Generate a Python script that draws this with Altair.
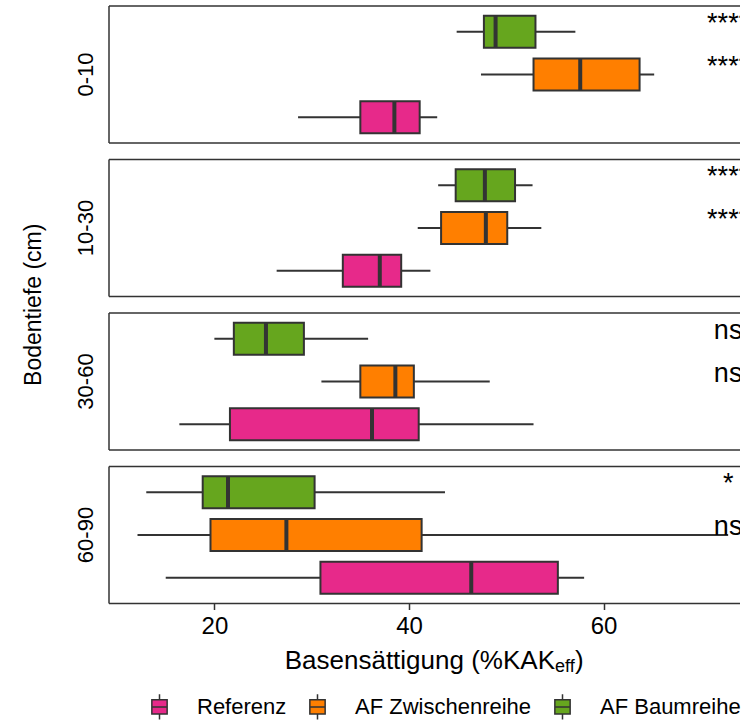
import altair as alt
import pandas as pd

# Soil depth classes (one panel each) and land-use groups
depths = ["0-10", "10-30", "30-60", "60-90"]
groups = ["Referenz", "AF Zwischenreihe", "AF Baumreihe"]
colors = ["#E7298A", "#FF7F00", "#66A61E"]

# Box statistics, depth-major, groups in the order of `groups`
depth_col = [d for d in depths for _ in groups]
group_col = groups * len(depths)
lower = [28.6, 47.4, 44.9, 26.4, 40.9, 43.0, 16.4, 31.0, 20.0, 15.0, 12.1, 13.0]
q1 = [35.0, 52.8, 47.7, 33.2, 43.3, 44.8, 21.6, 35.0, 22.0, 30.9, 19.6, 18.8]
median = [38.5, 57.6, 48.9, 37.0, 47.9, 47.8, 36.2, 38.6, 25.3, 46.4, 27.4, 21.4]
q3 = [41.1, 63.7, 53.0, 39.2, 50.1, 50.9, 41.0, 40.5, 29.2, 55.3, 41.3, 30.3]
upper = [42.9, 65.2, 57.1, 42.2, 53.6, 52.7, 52.8, 48.3, 35.8, 58.0, 72.8, 43.7]
# significance versus Referenz
signif = ["", "****", "****", "", "****", "****", "", "ns", "ns", "", "ns", "*"]

x_ticks = [20, 40, 60]
title_main = "Basensättigung (%KAK"
title_sub = "eff"
title_close = ")"
y_title = "Bodentiefe (cm)"

df = pd.DataFrame({
    "depth": depth_col, "group": group_col,
    "lower": lower, "q1": q1, "median": median, "q3": q3, "upper": upper,
    "signif": signif,
})
# labels sit at the largest whisker value
df["label_x"] = max(upper)
df["ytitle"] = y_title

FONT = "Liberation Sans"
INK = "#333333"
W, H = 631, 137
GAP = 16.5

x_scale = alt.Scale(domain=[9.17, 74.02], nice=False, zero=False)
y_enc = alt.Y("group:N", sort=groups[::-1], axis=None,
              scale=alt.Scale(paddingInner=0.25, paddingOuter=0.225))

symbol_path = ("M-0.6,-0.55H0.6V0.55H-0.6Z M-0.6,0H0.6 "
               "M0,-1V-0.55 M0,0.55V1")
legend = alt.Legend(title=None, orient="none", direction="horizontal",
                    legendX=37, legendY=687,
                    symbolType=symbol_path, symbolSize=650,
                    symbolStrokeColor=INK, symbolStrokeWidth=1.5,
                    labelFontSize=22, labelFont=FONT, labelColor="black",
                    labelLimit=400, labelOffset=24, columnPadding=17)


def panel(depth, bottom=False, with_title=False):
    if bottom:
        axis = alt.Axis(values=x_ticks, grid=False, domain=False, tickSize=6,
                        tickWidth=1.5, tickColor=INK, labelFontSize=24,
                        labelColor="black", labelPadding=5, labelFont=FONT)
    else:
        axis = None
    whiskers = alt.Chart().mark_rule(color=INK, strokeWidth=2).encode(
        x=alt.X("lower:Q", scale=x_scale, title=None, axis=axis),
        x2="upper:Q", y=y_enc,
    )
    boxes = alt.Chart().mark_bar(stroke=INK, strokeWidth=2).encode(
        x="q1:Q", x2="q3:Q", y=y_enc,
        color=alt.Color("group:N", scale=alt.Scale(domain=groups, range=colors),
                        legend=legend),
    )
    medians = alt.Chart().mark_tick(color=INK, thickness=4, size=32, opacity=1).encode(
        x="median:Q", y=y_enc,
    )
    stars = alt.Chart().mark_text(fontSize=27, font=FONT, color="black", align="center",
                                  baseline="alphabetic", clip=True).encode(
        x="label_x:Q", y=y_enc, text="signif:N",
    ).transform_filter("datum.signif != ''")

    one = "datum.group == 'Referenz'"
    frame = dict(color=INK, strokeWidth=1.5)
    top = alt.Chart().mark_rule(**frame).encode(
        x=alt.value(0), x2=alt.value(W), y=alt.value(0)).transform_filter(one)
    bot = alt.Chart().mark_rule(**frame).encode(
        x=alt.value(0), x2=alt.value(W), y=alt.value(H)).transform_filter(one)
    left = alt.Chart().mark_rule(**frame).encode(
        x=alt.value(0), y=alt.value(0), y2=alt.value(H)).transform_filter(one)
    strip = alt.Chart().mark_text(angle=270, fontSize=22, font=FONT, color="black",
                                  align="center", baseline="middle").encode(
        x=alt.value(-23), y=alt.value(H / 2), text="depth:N").transform_filter(one)

    layers = [whiskers, boxes, medians, stars, top, bot, left, strip]
    if with_title:
        ytitle = alt.Chart().mark_text(angle=270, fontSize=23, font=FONT, color="black",
                                       align="center", baseline="middle").encode(
            x=alt.value(-75), y=alt.value(H + GAP / 2), text="ytitle:N"
        ).transform_filter(one)
        layers.append(ytitle)
    return alt.layer(*layers, data=df).transform_filter(
        alt.datum.depth == depth).properties(width=W, height=H)


# panels stacked on their plot rectangles only, so the shared y title
# may hang across the gap without pushing panels apart
panels = alt.vconcat(
    *[panel(d, bottom=(i == len(depths) - 1), with_title=(i == 1))
      for i, d in enumerate(depths)],
    spacing=GAP, bounds="flush",
)

# x-axis title with subscript, built from three text pieces
tdf = pd.DataFrame({"main": [title_main], "sub": [title_sub], "close": [title_close]})
tbase = alt.Chart(tdf)
t_main = tbase.mark_text(fontSize=26, font=FONT, color="black", align="right",
                         baseline="middle").encode(
    x=alt.value(446), y=alt.value(22), text="main:N")
t_sub = tbase.mark_text(fontSize=18, font=FONT, color="black", align="left",
                        baseline="middle").encode(
    x=alt.value(446), y=alt.value(28), text="sub:N")
t_close = tbase.mark_text(fontSize=26, font=FONT, color="black", align="left",
                          baseline="middle").encode(
    x=alt.value(466), y=alt.value(22), text="close:N")
x_title = alt.layer(t_main, t_sub, t_close).properties(width=W, height=30)

chart = alt.vconcat(panels, x_title, spacing=0).properties(
    padding={"left": 23, "top": 5, "right": 0, "bottom": 0}
).configure(font=FONT).configure_view(stroke="transparent", strokeWidth=0)

chart.save("out.html", embed_options={"renderer": "svg", "actions": False})
